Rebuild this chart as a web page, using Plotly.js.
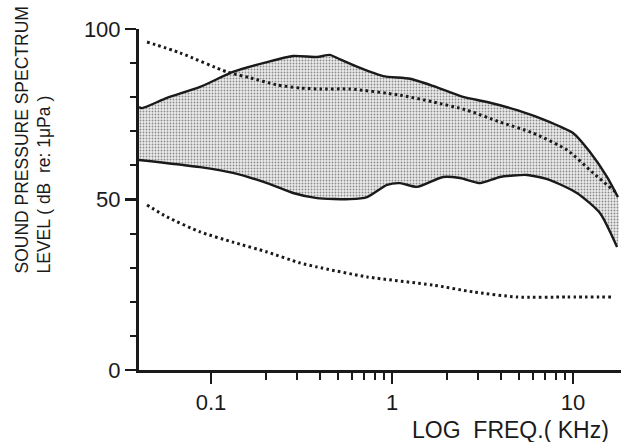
<!DOCTYPE html>
<html>
<head>
<meta charset="utf-8">
<script src="https://cdn.plot.ly/plotly-3.0.1.min.js"></script>
<style>html,body{margin:0;padding:0;background:#fff;}#chart{width:623px;height:442px;}</style>
</head>
<body>
<div id="chart"></div>
<script>
// Upper bound of shaded band (kHz, dB)
const upperFreq = [0.04, 0.0416, 0.0571, 0.087, 0.132, 0.204, 0.284, 0.385, 0.454, 0.497, 0.666, 0.892, 1.256, 1.685, 2.467, 3.35, 4.91, 7.46, 10, 12.4, 15.4, 17.7];
const upperDb   = [77.1, 76.8, 79.8, 83.0, 87.4, 90.3, 92.1, 91.8, 92.4, 91.5, 88.6, 86.2, 85.4, 83.3, 80.1, 78.6, 76.2, 72.7, 69.5, 63.9, 56.6, 50.7];
// Lower bound of shaded band
const lowerFreq = [0.04, 0.087, 0.132, 0.204, 0.284, 0.385, 0.586, 0.728, 0.938, 1.107, 1.374, 1.914, 2.377, 3.065, 3.95, 5.57, 7.46, 10.5, 14.1, 17.5];
const lowerDb   = [61.6, 59.5, 57.8, 54.8, 51.9, 50.4, 50.1, 50.7, 54.3, 54.8, 53.7, 56.6, 56.3, 54.8, 56.6, 57.2, 55.7, 51.9, 46.0, 36.1];
// Upper dotted curve
const dotHiFreq = [0.0443, 0.0674, 0.1226, 0.164, 0.2315, 0.310, 0.400, 0.586, 1.107, 1.685, 2.595, 3.95, 6.01, 9.27, 12.9, 17.06];
const dotHiDb   = [96.2, 93.0, 87.4, 85.7, 83.6, 82.7, 82.4, 82.4, 80.6, 78.6, 76.2, 72.7, 69.5, 64.5, 57.8, 52.3];
// Lower dotted curve
const dotLoFreq = [0.0443, 0.0571, 0.087, 0.132, 0.204, 0.310, 0.385, 0.728, 1.685, 2.803, 4.91, 9.27, 16.4];
const dotLoDb   = [48.4, 44.9, 40.5, 37.5, 34.6, 31.4, 30.2, 27.3, 24.9, 22.9, 21.4, 21.4, 21.4];
// Axis ticks
const xTickVals = [0.1, 1, 10];
const xTickText = ['0.1', '1', '10'];
const xMinorVals = [0.2,0.3,0.4,0.5,0.6,0.7,0.8,0.9,2,3,4,5,6,7,8,9];
const yTickVals = [0, 50, 100];
const yMinorVals = [10,20,30,40,60,70,80,90];

const ink = '#1a1a1a';
const bandX = upperFreq.concat(lowerFreq.slice().reverse());
const bandY = upperDb.concat(lowerDb.slice().reverse());

const traces = [
  {x: bandX, y: bandY, mode: 'lines', fill: 'toself',
   line: {width: 0, shape: 'spline', smoothing: 0.6},
   fillcolor: '#e0e0e0',
   fillpattern: {shape: '.', size: 3, solidity: 0.3, fgcolor: '#8c8c8c', bgcolor: '#ececec', fillmode: 'replace'},
   hoverinfo: 'skip'},
  {x: upperFreq, y: upperDb, mode: 'lines', line: {color: ink, width: 2.4, shape: 'spline', smoothing: 0.6}},
  {x: lowerFreq, y: lowerDb, mode: 'lines', line: {color: ink, width: 2.4, shape: 'spline', smoothing: 0.6}},
  {x: dotHiFreq, y: dotHiDb, mode: 'lines', line: {color: ink, width: 3, dash: '2.6px,3.2px', shape: 'spline', smoothing: 0.6}},
  {x: dotLoFreq, y: dotLoDb, mode: 'lines', line: {color: ink, width: 3, dash: '2.6px,3.2px', shape: 'spline', smoothing: 0.6}}
];

const tickFont = {family: 'Arial, "Liberation Sans", sans-serif', size: 22, color: ink};
const layout = {
  width: 623, height: 442,
  margin: {l: 139, r: 2, t: 29, b: 72},
  paper_bgcolor: '#fff', plot_bgcolor: '#fff',
  showlegend: false,
  xaxis: {
    type: 'log', range: [Math.log10(0.04), Math.log10(18.4)],
    tickmode: 'array', tickvals: xTickVals, ticktext: xTickText,
    ticks: 'outside', ticklen: 11, tickwidth: 2.4, tickcolor: ink,
    minor: {tickmode: 'array', tickvals: xMinorVals, ticks: 'outside', ticklen: 7, tickwidth: 2, tickcolor: ink, showgrid: false},
    showline: true, linecolor: ink, linewidth: 3,
    showgrid: false, zeroline: false,
    tickfont: tickFont
  },
  yaxis: {
    range: [0, 100],
    tickmode: 'array', tickvals: yTickVals,
    ticks: 'outside', ticklen: 11, tickwidth: 2.4, tickcolor: ink,
    minor: {tickmode: 'array', tickvals: yMinorVals, ticks: 'outside', ticklen: 6, tickwidth: 2, tickcolor: ink, showgrid: false},
    showline: true, linecolor: ink, linewidth: 3,
    showgrid: false, zeroline: false,
    tickfont: tickFont
  },
  annotations: [
    {text: 'LOG&nbsp;&nbsp;FREQ.(&nbsp;KHz)', xref: 'paper', yref: 'paper', x: 1, y: 0,
     xanchor: 'right', yanchor: 'middle', xshift: -10, yshift: -60, showarrow: false,
     font: {family: 'Arial, "Liberation Sans", sans-serif', size: 23, color: ink}},
    {text: 'SOUND PRESSURE SPECTRUM<br>LEVEL ( dB&nbsp;&nbsp;re: 1μPa )', xref: 'paper', yref: 'paper',
     x: 0, y: (370 - 276) / 341, xanchor: 'center', yanchor: 'bottom', xshift: -106,
     textangle: -90, align: 'left', showarrow: false,
     font: {family: 'Arial, "Liberation Sans", sans-serif', size: 17.5, color: ink}}
  ]
};

Plotly.newPlot('chart', traces, layout, {displayModeBar: false, staticPlot: true});
</script>
</body>
</html>
